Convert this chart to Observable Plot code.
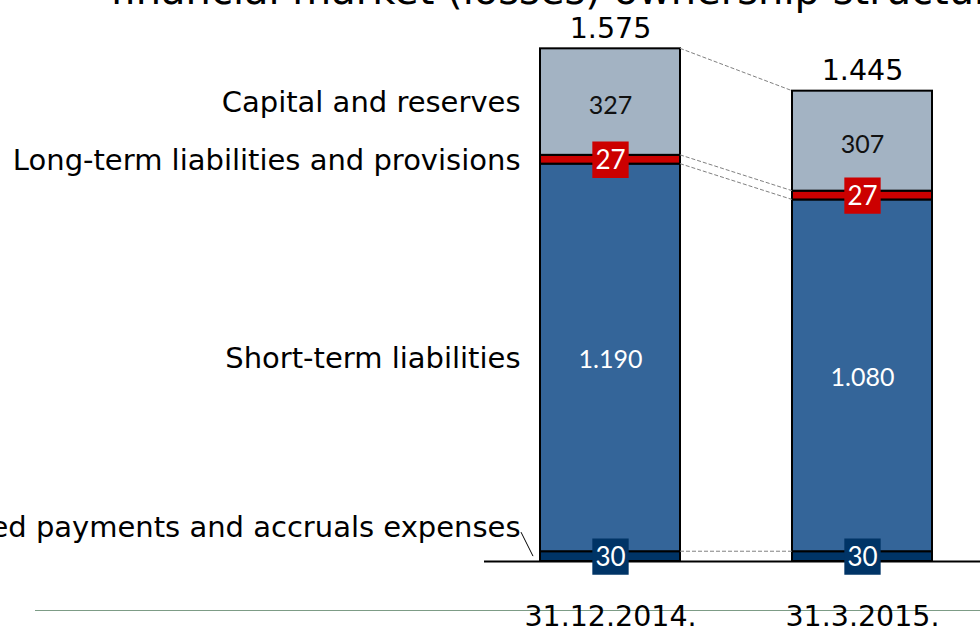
<!DOCTYPE html>
<html>
<head>
<meta charset="utf-8">
<script src="https://cdn.jsdelivr.net/npm/d3@7"></script>
<script src="https://cdn.jsdelivr.net/npm/@observablehq/plot@0.6"></script>
<style>
  html, body { margin: 0; padding: 0; background: #fff; overflow: hidden; }
  #wrap { position: relative; width: 980px; height: 627px; overflow: hidden; }
  #divider { position: absolute; left: 35px; top: 610px; width: 945px; height: 0; border-top: 1px solid #7d9c86; }
  #chart { position: absolute; left: 0; top: 0; }
</style>
</head>
<body>
<div id="wrap"><div id="divider"></div><div id="chart"></div></div>
<script>
const title = "financial market (losses) ownership structure";
const dates = ["31.12.2014.", "31.3.2015."];
const series = [
  "Deferred payments and accruals expenses",
  "Short-term liabilities",
  "Long-term liabilities and provisions",
  "Capital and reserves"
];
const deferred = [30, 30];
const shortTerm = [1190, 1080];
const longTerm = [27, 27];
const capital = [327, 307];
const totals = [1575, 1445];
const colors = ["#003466", "#346599", "#cc0000", "#a3b3c3"];

const seriesValues = [deferred, shortTerm, longTerm, capital];
const rows = [];
dates.forEach((d, i) => seriesValues.forEach((arr, j) => rows.push({date: d, series: series[j], value: arr[i]})));
const totalRows = dates.map((d, i) => ({date: d, total: totals[i]}));

const fmt = d3.formatLocale({decimal: ",", thousands: ".", grouping: [3], currency: ["", ""]}).format(",");
const stackOpts = {x: "date", y: "value", z: "series", order: series};

function connectors(index, scales) {
  const sx = scales.x, sy = scales.y, bw = sx.bandwidth();
  const g = d3.create("svg:g");
  let c0 = 0, c1 = 0;
  seriesValues.forEach(arr => {
    c0 += arr[0]; c1 += arr[1];
    g.append("line")
      .attr("x1", sx(dates[0]) + bw).attr("y1", sy(c0))
      .attr("x2", sx(dates[1])).attr("y2", sy(c1))
      .attr("stroke", "#808080").attr("stroke-width", 1).attr("stroke-dasharray", "4,2");
  });
  // leader line for the bottom legend label
  const ym = sy(deferred[0] / 2);
  g.append("line")
    .attr("x1", sx(dates[0]) - 19).attr("y1", ym - 24)
    .attr("x2", sx(dates[0]) - 7).attr("y2", ym)
    .attr("stroke", "#000").attr("stroke-width", 1);
  return g.node();
}

const chart = Plot.plot({
  width: 980,
  height: 627,
  marginTop: 48,
  marginBottom: 66,
  marginLeft: 484,
  marginRight: 0,
  style: {fontFamily: "DejaVu Sans", background: "transparent", overflow: "visible", color: "#000"},
  x: {domain: dates, range: [484.5, 988.5], paddingInner: 0.4444, paddingOuter: 0.2222, axis: null},
  y: {domain: [0, 1575], axis: null},
  color: {domain: series, range: colors},
  marks: [
    Plot.barY(rows, {...stackOpts, fill: "series", stroke: "#000", strokeWidth: 2}),
    connectors,
    Plot.ruleY([0], {stroke: "#000", strokeWidth: 2}),
    Plot.dot(rows, Plot.filter(d => d.series === series[0] || d.series === series[2],
      Plot.stackY({...stackOpts, fill: "series", symbol: "square", r: 20.5}))),
    Plot.text(rows, Plot.filter(d => d.series === series[0] || d.series === series[2],
      Plot.stackY({...stackOpts, text: d => fmt(d.value), fill: "#fff", fontFamily: "Lato", fontSize: 26, dy: 1}))),
    Plot.text(rows, Plot.filter(d => d.series === series[1],
      Plot.stackY({...stackOpts, text: d => fmt(d.value), fill: "#fff", fontFamily: "Lato", fontSize: 25, dy: 2}))),
    Plot.text(rows, Plot.filter(d => d.series === series[3],
      Plot.stackY({...stackOpts, text: d => fmt(d.value), fill: "#111", fontFamily: "Lato", fontSize: 25, dy: 4}))),
    Plot.text(rows, Plot.filter(d => d.date === dates[0] && d.series !== series[0],
      Plot.stackY({...stackOpts, text: "series", textAnchor: "end", dx: -90, dy: 1, fontSize: 29, fill: "#000"}))),
    Plot.text(rows, Plot.filter(d => d.date === dates[0] && d.series === series[0],
      Plot.stackY({...stackOpts, text: "series", textAnchor: "end", dx: -90, dy: -29, fontSize: 29, fill: "#000"}))),
    Plot.text(totalRows, {x: "date", y: "total", text: d => fmt(d.total), lineAnchor: "bottom", dy: -11, fontSize: 28.5, fill: "#000"}),
    Plot.text(dates, {x: d => d, frameAnchor: "bottom", lineAnchor: "top", dy: 44, fontSize: 28.5, fill: "#000"}),
    Plot.text([title], {frameAnchor: "top-left", textAnchor: "start", lineAnchor: "bottom", dx: -374, dy: -44.5, fontSize: 40, fill: "#000"})
  ]
});
document.getElementById("chart").appendChild(chart);
</script>
</body>
</html>
